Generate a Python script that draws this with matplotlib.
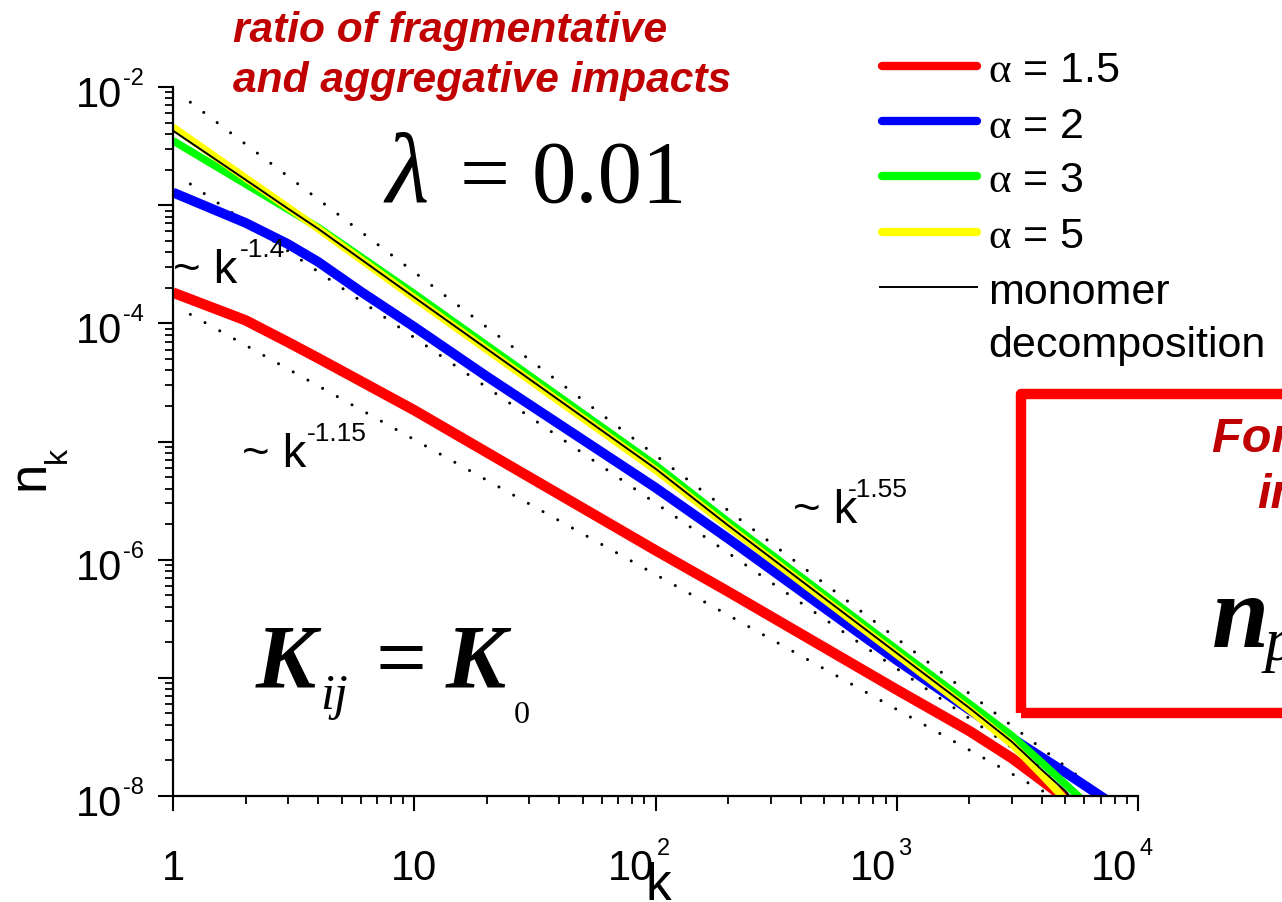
import numpy as np
import matplotlib
matplotlib.use("Agg")
import matplotlib.pyplot as plt
from matplotlib.lines import Line2D
from matplotlib.patches import Rectangle
from matplotlib.ticker import FixedLocator, LogLocator, NullFormatter

plt.rcParams["font.family"] = ["Liberation Sans", "DejaVu Sans"]
plt.rcParams["mathtext.fontset"] = "custom"
plt.rcParams["mathtext.rm"] = "Liberation Sans"
plt.rcParams["mathtext.it"] = "Liberation Sans:italic"
plt.rcParams["mathtext.sf"] = "Liberation Serif"

W, H = 1282, 903
PT = 0.72  # points per pixel at 100 dpi

# ---- size distributions n_k for lambda = 0.01, constant kernel ----
k_a15 = [1, 2, 3, 4, 6, 10, 100, 200, 1000, 2000, 3000, 4000, 5000]
n_a15 = [1.82e-4, 1.06e-4, 6.92e-5, 5.07e-5, 3.24e-5, 1.84e-5, 1.20e-6,
         5.37e-7, 7.94e-8, 3.55e-8, 2.09e-8, 1.35e-8, 9.5e-9]

k_a2 = [1, 2, 3, 4, 6, 10, 20, 100, 200, 1000, 2000, 3000, 5000, 7000, 7500]
n_a2 = [1.28e-3, 7.08e-4, 4.68e-4, 3.31e-4, 1.86e-4, 9.33e-5, 3.55e-5,
        4.07e-6, 1.51e-6, 1.41e-7, 5.37e-8, 3.09e-8, 1.58e-8, 1.0e-8, 9.1e-9]

k_a3 = [1, 2, 3, 4, 10, 100, 200, 1000, 2000, 3000, 4000, 5000, 6000]
n_a3 = [3.51e-3, 1.51e-3, 9.2e-4, 6.46e-4, 1.78e-4, 6.31e-6, 2.09e-6,
        1.74e-7, 6.03e-8, 3.24e-8, 1.91e-8, 1.26e-8, 8.9e-9]

k_a5 = [1, 2, 3, 4, 10, 100, 200, 1000, 2000, 3000, 4000, 5000]
n_a5 = [4.57e-3, 1.70e-3, 9.55e-4, 6.31e-4, 1.64e-4, 5.75e-6, 1.91e-6,
        1.58e-7, 5.37e-8, 2.75e-8, 1.51e-8, 9.3e-9]

k_mono = [1, 2, 3, 4, 10, 100, 200, 1000, 2000, 3000, 4000, 5000, 5500]
n_mono = [4.27e-3, 1.64e-3, 9.33e-4, 6.31e-4, 1.66e-4, 5.89e-6, 1.95e-6,
          1.62e-7, 5.56e-8, 2.88e-8, 1.66e-8, 1.10e-8, 8.7e-9]

series_labels = ["1.5", "2", "3", "5"]
series_colors = ["#ff0000", "#0000ff", "#00ff00", "#ffff00"]
series_widths = [7.5, 7.0, 5.5, 5.5]

# power-law guides (end points) and their exponents
guide_k = [[1.18, 6900], [1.18, 5500], [1.18, 4200]]
guide_n = [[7.43e-3, 1.08e-8], [1.51e-3, 1.10e-8], [1.19e-4, 1.05e-8]]
guide_exp = ["-1.55", "-1.4", "-1.15"]

x_major = [1, 10, 100, 1000, 10000]
x_exp = [None, None, "2", "3", "4"]
x_base = ["1", "10", "10", "10", "10"]
y_major = [1e-8, 1e-7, 1e-6, 1e-5, 1e-4, 1e-3, 1e-2]
y_labelled = [1e-8, 1e-6, 1e-4, 1e-2]
y_exp = ["-8", "-6", "-4", "-2"]


def fx(x):
    return x / W


def fy(y):
    return 1 - y / H


fig = plt.figure(figsize=(W / 100, H / 100), dpi=100)
ax = fig.add_axes([fx(173), fy(797), (1138 - 173) / W, (797 - 88) / H])
ax.set_xscale("log")
ax.set_yscale("log")

# guides
for gk, gn in zip(guide_k, guide_n):
    ax.plot(gk, gn, color="black", lw=2.2, dashes=(0.01, 5.5),
            dash_capstyle="round", zorder=1)

# curves
all_k = [k_a15, k_a2, k_a3, k_a5]
all_n = [n_a15, n_a2, n_a3, n_a5]
for kk, nn, c, w in zip(all_k, all_n, series_colors, series_widths):
    ax.plot(kk, nn, color=c, lw=w, solid_capstyle="butt",
            solid_joinstyle="round", zorder=2)
ax.plot(k_mono, n_mono, color="black", lw=1.4, zorder=3)

ax.set_xlim(1, 1e4)
ax.set_ylim(1e-8, 1e-2)

ax.xaxis.set_major_locator(FixedLocator(x_major))
ax.xaxis.set_major_formatter(NullFormatter())
ax.xaxis.set_minor_locator(LogLocator(base=10, subs=np.arange(2, 10), numticks=20))
ax.xaxis.set_minor_formatter(NullFormatter())
ax.yaxis.set_major_locator(FixedLocator(y_major))
ax.yaxis.set_major_formatter(NullFormatter())
ax.yaxis.set_minor_locator(LogLocator(base=10, subs=np.arange(2, 10), numticks=20))
ax.yaxis.set_minor_formatter(NullFormatter())

for s in ["top", "right"]:
    ax.spines[s].set_visible(False)
for s in ["left", "bottom"]:
    ax.spines[s].set_linewidth(1.6)

ax.tick_params(which="major", direction="out", length=11, width=1.5)
ax.tick_params(which="minor", direction="out", length=5.5, width=1.3)

# tick labels: "10" with a small raised exponent
TICK_FS, EXP_FS = 30, 17
xt = ax.get_xaxis_transform()
for v, base, e in zip(x_major, x_base, x_exp):
    if e is None:
        ax.annotate(base, xy=(v, 0), xycoords=xt, xytext=(0, -83 * PT),
                    textcoords="offset points", ha="center", va="baseline",
                    fontsize=TICK_FS, annotation_clip=False)
    else:
        ax.annotate(base, xy=(v, 0), xycoords=xt, xytext=(-1 * PT, -83 * PT),
                    textcoords="offset points", ha="right", va="baseline",
                    fontsize=TICK_FS, annotation_clip=False)
        ax.annotate(e, xy=(v, 0), xycoords=xt, xytext=(1 * PT, -58 * PT),
                    textcoords="offset points", ha="left", va="baseline",
                    fontsize=EXP_FS, annotation_clip=False)
yt = ax.get_yaxis_transform()
for v, e in zip(y_labelled, y_exp):
    ax.annotate("10", xy=(0, v), xycoords=yt, xytext=(-51 * PT, -19 * PT),
                textcoords="offset points", ha="right", va="baseline",
                fontsize=TICK_FS, annotation_clip=False)
    ax.annotate(e, xy=(0, v), xycoords=yt, xytext=(-50 * PT, 3 * PT),
                textcoords="offset points", ha="left", va="baseline",
                fontsize=EXP_FS, annotation_clip=False)

# axis titles
fig.text(fx(658), fy(900), "k", fontsize=37, ha="center", va="baseline")
fig.text(fx(44), fy(490), "n", fontsize=38, rotation=90,
         rotation_mode="anchor", ha="left", va="baseline")
fig.text(fx(66), fy(463), "k", fontsize=23, rotation=90,
         rotation_mode="anchor", ha="left", va="baseline")

# guide labels
GUIDE_FS = 34
guide_pos = [(793, 523, 848), (173, 283, 240), (242, 467, 307)]
for (gx, gy, ex), e in zip(guide_pos, guide_exp):
    fig.text(fx(gx), fy(gy), "~ k", fontsize=GUIDE_FS, va="baseline")
    fig.text(fx(ex), fy(gy - 26), e, fontsize=19, va="baseline")

# heading
dark_red = "#c00000"
fig.text(fx(233), fy(42), "ratio of fragmentative", color=dark_red,
         fontsize=30.6, fontweight="bold", fontstyle="italic", va="baseline")
fig.text(fx(233), fy(92), "and aggregative impacts", color=dark_red,
         fontsize=30.6, fontweight="bold", fontstyle="italic", va="baseline")

# lambda = 0.01
serif = "Liberation Serif"
fig.text(fx(385), fy(202), "\u03bb", family=serif, fontstyle="italic",
         fontsize=72, va="baseline")
fig.text(fx(460), fy(202), "=", family=serif, fontsize=64, va="baseline")
fig.text(fx(532), fy(202), "0.01", family=serif, fontsize=64, va="baseline")

# K_ij = K_0
fig.text(fx(256), fy(688), "K", family=serif, fontstyle="italic",
         fontweight="bold", fontsize=65, va="baseline")
fig.text(fx(320), fy(709), "ij", family=serif, fontstyle="italic",
         fontsize=36, va="baseline")
fig.text(fx(376), fy(688), "=", family=serif, fontsize=65, va="baseline")
fig.text(fx(446), fy(688), "K", family=serif, fontstyle="italic",
         fontweight="bold", fontsize=65, va="baseline")
fig.text(fx(514), fy(723), "0", family=serif, fontsize=23, va="baseline")

# legend
LEG_FS = 31
leg_y = [67, 122, 177, 233]
for y, c, lab in zip(leg_y, series_colors, series_labels):
    fig.add_artist(Line2D([fx(882), fx(977)], [fy(y), fy(y)], color=c, lw=6,
                          solid_capstyle="round", transform=fig.transFigure))
    fig.text(fx(988), fy(y), r"$\mathsf{\alpha}$ = " + lab, fontsize=LEG_FS,
             va="center_baseline")
fig.add_artist(Line2D([fx(880), fx(977)], [fy(288), fy(288)], color="black",
                      lw=1.4, transform=fig.transFigure))
fig.text(fx(988), fy(288), "monomer", fontsize=LEG_FS, va="center_baseline")
fig.text(fx(988), fy(342), "decomposition", fontsize=LEG_FS,
         va="center_baseline")

# framed note on the right
fig.add_artist(Rectangle((fx(1021), fy(714)), fx(1500) - fx(1021),
                         fy(395) - fy(714), transform=fig.transFigure,
                         fill=False, edgecolor="#ff0000", lw=7.5,
                         joinstyle="round"))
fig.text(fx(1212), fy(452), "For small \u03bb", color=dark_red, fontsize=35,
         fontweight="bold", fontstyle="italic", va="baseline")
fig.text(fx(1257), fy(508), "impacts", color=dark_red, fontsize=35,
         fontweight="bold", fontstyle="italic", va="baseline")
fig.text(fx(1212), fy(647), "n", family=serif, fontstyle="italic",
         fontweight="bold", fontsize=74, va="baseline")
fig.text(fx(1265), fy(660), "p", family=serif, fontstyle="italic",
         fontsize=44, va="baseline")

fig.savefig("out.png", dpi=100)
